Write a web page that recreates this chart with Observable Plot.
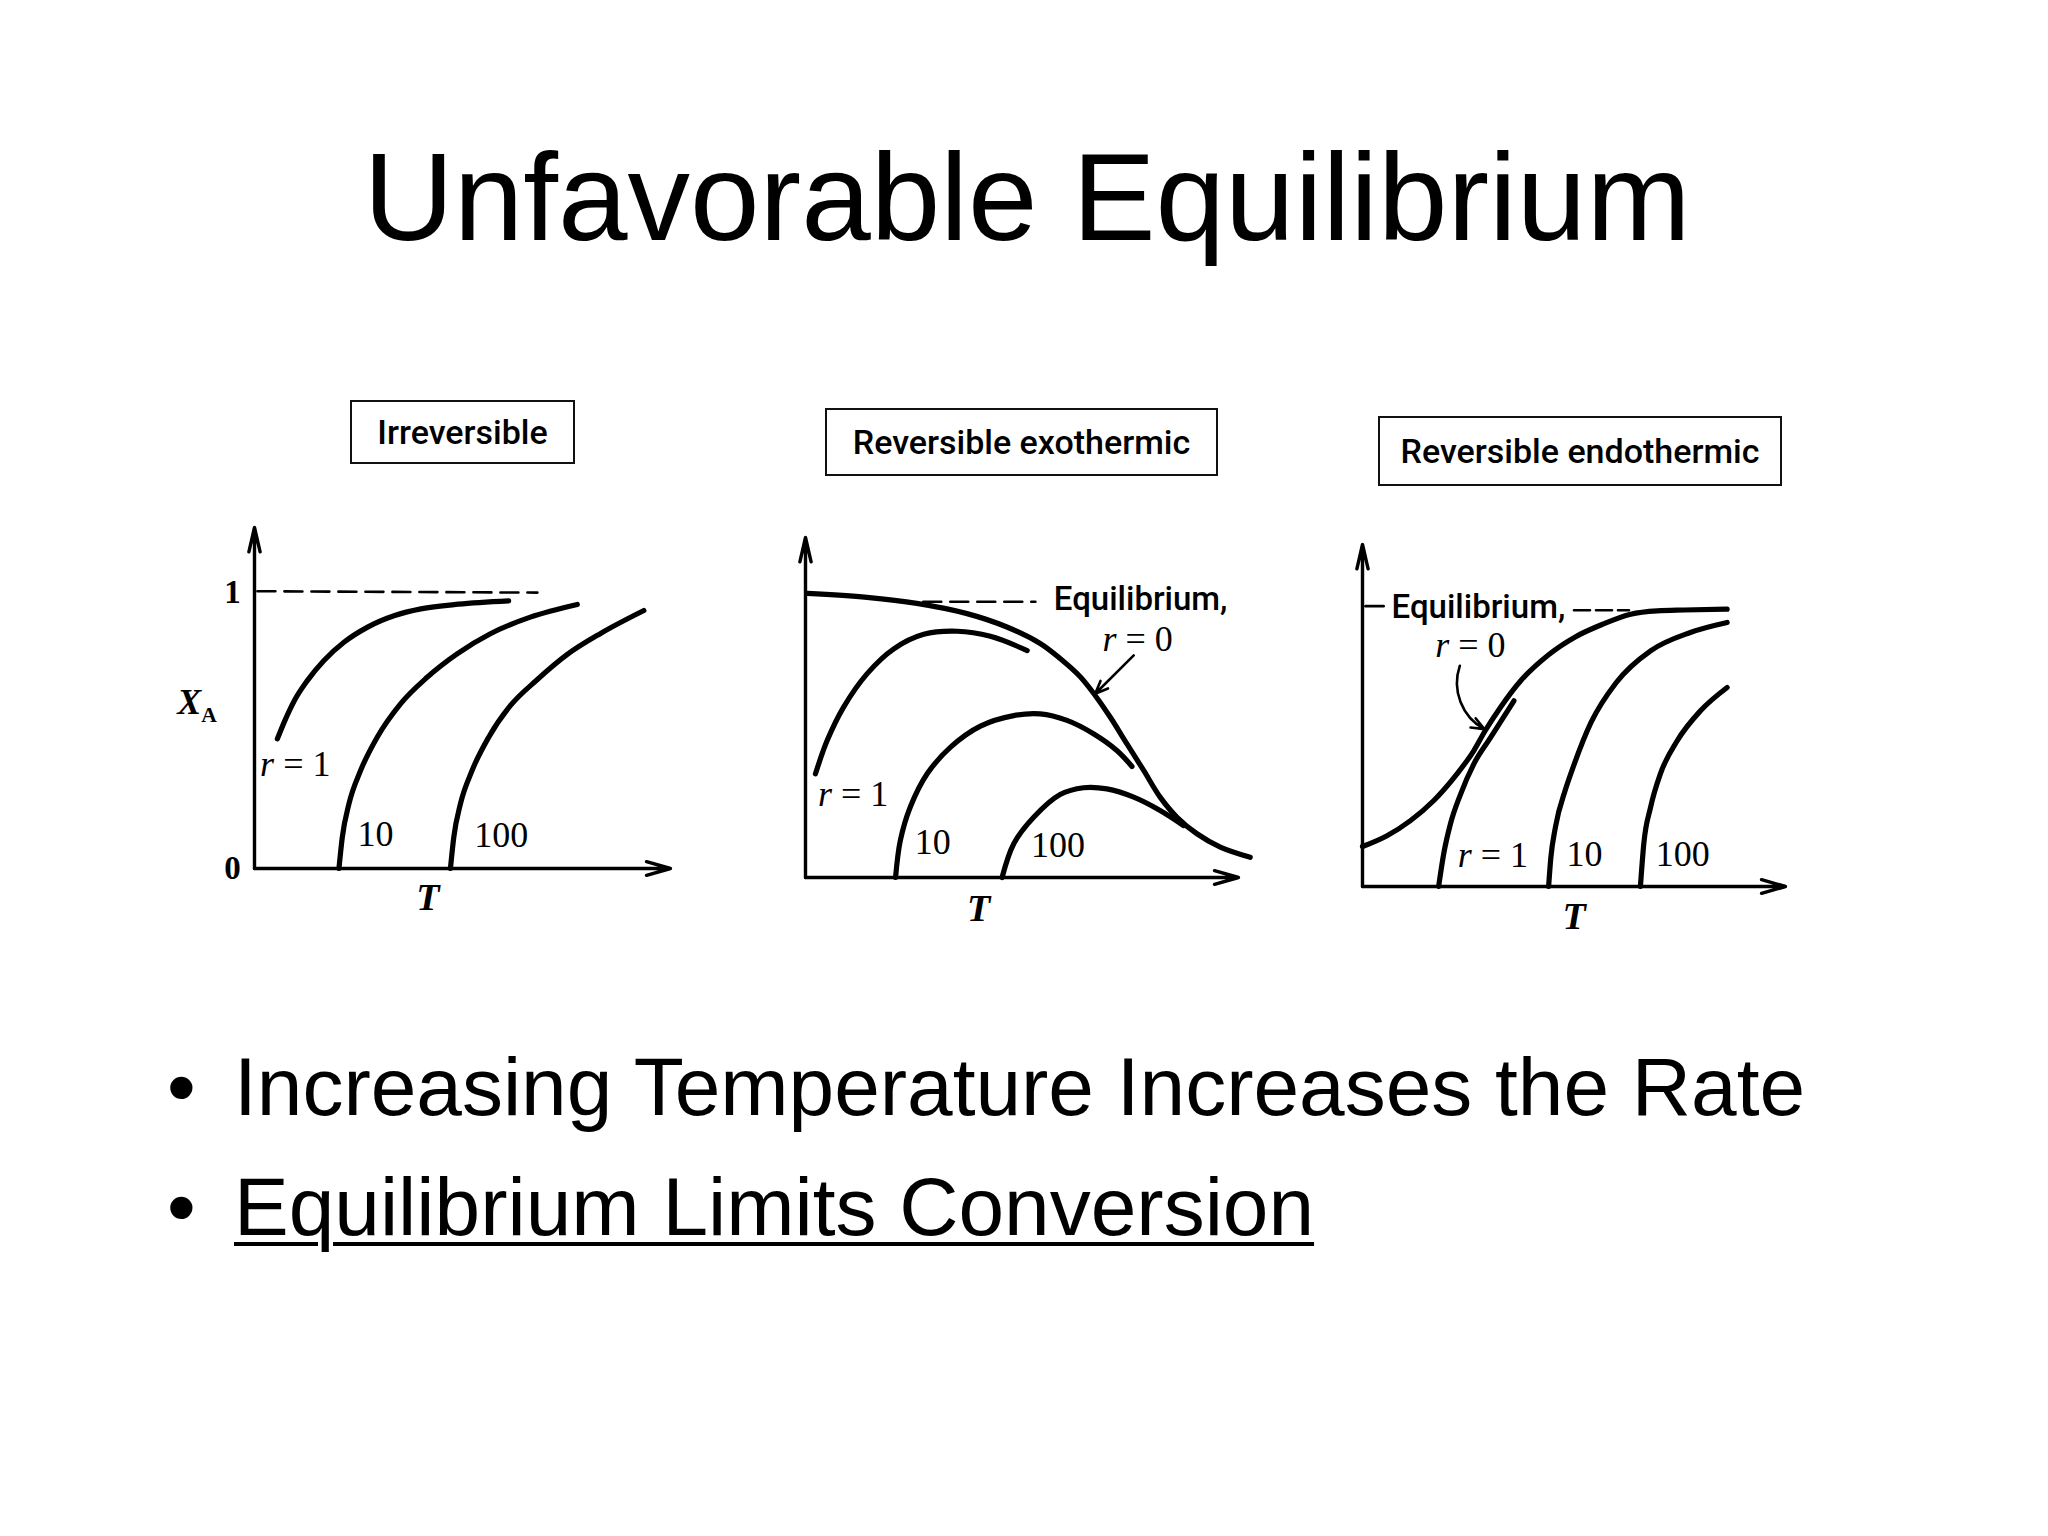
<!DOCTYPE html>
<html>
<head>
<meta charset="utf-8">
<script src="https://cdn.jsdelivr.net/npm/d3@7"></script>
<script src="https://cdn.jsdelivr.net/npm/@observablehq/plot@0.6"></script>
<style>
  html, body { margin: 0; padding: 0; background: #fff; }
  #page { position: relative; width: 2048px; height: 1536px; overflow: hidden; background: #fff; color: #000; }
  .title { position: absolute; left: 3px; top: 134px; width: 2048px; text-align: center;
           font-family: "Liberation Sans", Arial, sans-serif; font-size: 125px; line-height: 1; white-space: nowrap; }
  .dot, .bullet { position: absolute; font-family: "Liberation Sans", Arial, sans-serif; font-size: 82px;
           line-height: 1; white-space: nowrap; }
  .bullet.u { text-decoration: underline; text-decoration-thickness: 4px; text-underline-offset: 7px; }
  .box { position: absolute; box-sizing: border-box; border: 2.5px solid #111; display: flex; align-items: center;
         justify-content: center; font-family: Roboto, sans-serif; font-weight: 500; font-size: 34px; white-space: nowrap; }
  svg.panel { position: absolute; overflow: visible; }
</style>
</head>
<body>
<div id="page"></div>
<script>
// ---------- text content ----------
const slideTitle = "Unfavorable Equilibrium";
const bullets = ["Increasing Temperature Increases the Rate", "Equilibrium Limits Conversion"];
const bulletUnderlined = [false, true];
const panelTitles = ["Irreversible", "Reversible exothermic", "Reversible endothermic"];
const rateLabels = ["r = 1", "10", "100"];
const eqLabels = ["Equilibrium,", "r = 0"];
const xLabel = "T";
const yLabel = "X_A";
const yTicks = [0, 1];
const tMax = 10;

// ---------- Panel 1: irreversible  [T, X_A] ----------
const irrR1   = [[0.55,0.470],[0.73,0.536],[0.96,0.609],[1.27,0.681],[1.67,0.754],[2.15,0.820],[2.72,0.875],[3.37,0.917],
                 [4.0,0.941],[4.9,0.958],[6.11,0.970]];
const irrR10  = [[2.03,0],[2.11,0.113],[2.27,0.234],[2.55,0.355],[2.95,0.476],[3.51,0.597],[4.15,0.693],[4.87,0.778],
                 [5.67,0.851],[6.63,0.911],[7.76,0.957]];
const irrR100 = [[4.71,0],[4.79,0.113],[4.95,0.234],[5.23,0.355],[5.63,0.476],[6.15,0.590],[6.80,0.685],[7.52,0.776],
                 [8.32,0.852],[9.36,0.935]];
const irrLimit = [[0.07,1.005],[6.8,1.0]];
const irrLabelPos = [[0.98,0.377],[2.91,0.122],[5.93,0.118]];

// ---------- Panel 2: reversible exothermic ----------
const exoEq   = [[0.04,1.0],[1.42,0.986],[2.57,0.965],[3.73,0.929],[4.65,0.882],[5.42,0.824],[5.88,0.771],[6.35,0.706],
                 [6.69,0.641],[7.04,0.564],[7.42,0.471],[7.81,0.377],[8.19,0.283],[8.58,0.212],[9.04,0.154],[9.58,0.107],[10.27,0.071]];
const exoR1   = [[0.23,0.365],[0.50,0.482],[0.88,0.600],[1.42,0.717],[2.04,0.805],[2.73,0.856],[3.50,0.867],[4.27,0.849],[5.12,0.799]];
const exoR10  = [[2.08,0],[2.19,0.13],[2.42,0.248],[2.81,0.365],[3.35,0.459],[4.04,0.533],[4.81,0.570],[5.42,0.576],
                 [6.04,0.553],[6.65,0.506],[7.19,0.447],[7.54,0.391]];
const exoR100 = [[4.54,0],[4.81,0.119],[5.27,0.212],[5.88,0.292],[6.42,0.316],[6.96,0.312],[7.58,0.283],[8.19,0.236],[8.73,0.183]];
const exoDash = [[2.72,0.971],[5.31,0.971]];
const exoLabelPos = [[1.1,0.294],[2.94,0.123],[5.83,0.113]];
const exoEqLabelPos = [[7.74,0.979],[7.67,0.838]];
const exoArrow = [[7.58,0.782],[6.69,0.647]];

// ---------- Panel 3: reversible endothermic ----------
const endoEq   = [[0,0.144],[0.58,0.183],[1.13,0.237],[1.68,0.309],[2.23,0.405],[2.63,0.489],[2.90,0.561],[3.26,0.645],
                  [3.74,0.741],[4.40,0.835],[5.04,0.900],[5.68,0.945],[6.34,0.981],[6.97,0.993],[7.60,0.996],[8.62,0.999]];
const endoR1   = [[1.80,0],[1.92,0.118],[2.08,0.226],[2.32,0.333],[2.63,0.441],[3.03,0.537],[3.58,0.669]];
const endoR10  = [[4.40,0],[4.45,0.10],[4.56,0.213],[4.80,0.35],[4.98,0.43],[5.40,0.59],[6.0,0.735],[6.81,0.849],[7.75,0.915],[8.62,0.951]];
const endoR100 = [[6.57,0],[6.65,0.154],[6.81,0.285],[7.04,0.405],[7.44,0.525],[7.99,0.633],[8.62,0.717]];
const endoLead = [[0.07,1.01],[0.50,1.01]];
const endoDash = [[5.0,0.995],[6.3,0.995]];
const endoLabelPos = [[3.08,0.112],[5.25,0.115],[7.57,0.115]];
const endoEqLabelPos = [[2.74,1.005],[2.55,0.867]];
const endoArrow = [[2.30,0.795],[2.88,0.567]];

const xLabelPos = [[4.17,-0.105],[4.0,-0.112],[5.0,-0.111]];
const yLabelPos = [-1.38, 0.60];

// ---------- layout (page pixels) ----------
const layout = [
  {originX: 254, originY: 868, xLen: 416, yUnit: 276, yTop: 1.236, box: {left: 350, top: 400, width: 225, height: 64}},
  {originX: 805, originY: 877, xLen: 433, yUnit: 284, yTop: 1.197, box: {left: 825, top: 408, width: 393, height: 68}},
  {originX: 1362, originY: 886, xLen: 423, yUnit: 278, yTop: 1.232, box: {left: 1378, top: 416, width: 404, height: 70}}
];

const page = document.getElementById("page");

// title + bullets
const t = document.createElement("div"); t.className = "title"; t.textContent = slideTitle; page.appendChild(t);
bullets.forEach((b, i) => {
  const top = 1046 + i * 120;
  const d = document.createElement("div"); d.className = "dot"; d.textContent = "\u2022";
  d.style.left = "167px"; d.style.top = top + "px"; page.appendChild(d);
  const s = document.createElement("div"); s.className = "bullet" + (bulletUnderlined[i] ? " u" : "");
  s.textContent = b; s.style.left = "234px"; s.style.top = top + "px"; page.appendChild(s);
});

// helpers
const pts = a => a.map(([T, X]) => ({T, X}));
const lbl = (pos, texts) => pos.map(([T, X], i) => ({T, X, text: texts[i]}));
const curve = (a, o = {}) => Plot.line(pts(a), {x: "T", y: "X", curve: "monotone-x", stroke: "#000",
  strokeWidth: 5.2, strokeLinecap: "round", strokeLinejoin: "round", ...o});
const peaked = {curve: "catmull-rom"};
const serif = (data, o = {}) => Plot.text(data, {x: "T", y: "X", text: "text", fontFamily: "Liberation Serif",
  fontSize: 36, fill: "#000", textAnchor: "middle", ...o});
const sans = (data, o = {}) => Plot.text(data, {x: "T", y: "X", text: "text", fontFamily: "Roboto",
  fontWeight: 500, fontSize: 33, fill: "#000", textAnchor: "middle", ...o});
const annArrow = (a, o = {}) => Plot.arrow([{x1: a[0][0], y1: a[0][1], x2: a[1][0], y2: a[1][1]}],
  {x1: "x1", y1: "y1", x2: "x2", y2: "y2", stroke: "#000", strokeWidth: 2.6, headLength: 8, headAngle: 45, ...o});

function styleTexts(svg) {
  d3.select(svg).selectAll("text").each(function () {
    const s = this.textContent;
    const sel = d3.select(this);
    if (/^r = /.test(s)) {
      sel.text(null);
      sel.append("tspan").attr("font-style", "italic").text("r");
      sel.append("tspan").text(s.slice(1));
    } else if (s === "X_A") {
      sel.text(null);
      sel.append("tspan").attr("font-style", "italic").attr("font-weight", "bold").text("X");
      sel.append("tspan").attr("font-size", "60%").attr("font-weight", "bold").attr("dy", "0.35em").text("A");
    }
  });
}

function drawPanel(i, extraMarks, withTicks) {
  const L = layout[i];
  const mL = 110, mR = 50, mT = 20, mB = 60;
  const plotH = Math.round(L.yUnit * L.yTop);
  const width = mL + L.xLen + mR;
  const height = mT + plotH + mB;
  const marks = [
    Plot.arrow([{x1: 0, y1: 0, x2: tMax, y2: 0}], {x1: "x1", y1: "y1", x2: "x2", y2: "y2",
      stroke: "#000", strokeWidth: 3.4, headLength: 11, headAngle: 32}),
    Plot.arrow([{x1: 0, y1: 0, x2: 0, y2: L.yTop}], {x1: "x1", y1: "y1", x2: "x2", y2: "y2",
      stroke: "#000", strokeWidth: 3.4, headLength: 11, headAngle: 26}),
    ...extraMarks,
    serif([{T: xLabelPos[i][0], X: xLabelPos[i][1], text: xLabel}], {fontStyle: "italic", fontWeight: "bold", fontSize: 38})
  ];
  if (withTicks) {
    marks.push(Plot.text(yTicks, {x: () => 0, y: d => d, text: d => String(d), dx: -22, textAnchor: "middle",
      fontFamily: "Liberation Serif", fontWeight: "bold", fontSize: 33, fill: "#000"}));
    marks.push(serif([{T: yLabelPos[0], X: yLabelPos[1], text: yLabel}], {fontSize: 36}));
  }
  const svg = Plot.plot({
    width, height, marginLeft: mL, marginRight: mR, marginTop: mT, marginBottom: mB,
    x: {domain: [0, tMax], axis: null},
    y: {domain: [0, L.yTop], axis: null},
    style: {background: "transparent", overflow: "visible", color: "#000"},
    marks
  });
  svg.classList.add("panel");
  svg.style.left = (L.originX - mL) + "px";
  svg.style.top = (L.originY - plotH - mT) + "px";
  styleTexts(svg);
  page.appendChild(svg);

  const b = document.createElement("div");
  b.className = "box"; b.textContent = panelTitles[i];
  Object.assign(b.style, {left: L.box.left + "px", top: L.box.top + "px", width: L.box.width + "px", height: L.box.height + "px"});
  page.appendChild(b);
}

// Panel 1
drawPanel(0, [
  Plot.line(pts(irrLimit), {x: "T", y: "X", stroke: "#000", strokeWidth: 2.6, strokeDasharray: "18,9"}),
  curve(irrR1), curve(irrR10), curve(irrR100),
  serif(lbl(irrLabelPos, rateLabels))
], true);

// Panel 2
drawPanel(1, [
  Plot.line(pts(exoDash), {x: "T", y: "X", stroke: "#000", strokeWidth: 2.6, strokeDasharray: "18,9"}),
  curve(exoEq, peaked), curve(exoR1, peaked), curve(exoR10, peaked), curve(exoR100, peaked),
  serif(lbl(exoLabelPos, rateLabels)),
  sans([{T: exoEqLabelPos[0][0], X: exoEqLabelPos[0][1], text: eqLabels[0]}]),
  serif([{T: exoEqLabelPos[1][0], X: exoEqLabelPos[1][1], text: eqLabels[1]}]),
  annArrow(exoArrow)
], false);

// Panel 3
drawPanel(2, [
  Plot.line(pts(endoLead), {x: "T", y: "X", stroke: "#000", strokeWidth: 2.6}),
  Plot.line(pts(endoDash), {x: "T", y: "X", stroke: "#000", strokeWidth: 2.6, strokeDasharray: "16,6"}),
  curve(endoEq), curve(endoR1), curve(endoR10), curve(endoR100),
  serif(lbl(endoLabelPos, rateLabels)),
  sans([{T: endoEqLabelPos[0][0], X: endoEqLabelPos[0][1], text: eqLabels[0]}]),
  serif([{T: endoEqLabelPos[1][0], X: endoEqLabelPos[1][1], text: eqLabels[1]}]),
  annArrow(endoArrow, {bend: -40})
], false);
</script>
</body>
</html>
